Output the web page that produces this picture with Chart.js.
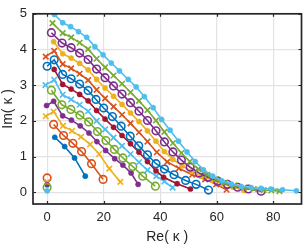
<!DOCTYPE html>
<html>
<head>
<meta charset="utf-8">
<script src="https://cdn.jsdelivr.net/npm/chart.js@4/dist/chart.umd.min.js"></script>
<style>
html,body{margin:0;padding:0;background:#fff;}
#wrap{width:307px;height:249px;}
</style>
</head>
<body>
<div id="wrap"><canvas id="c" width="307" height="249"></canvas></div>
<script>
// ---- data (Re(kappa), Im(kappa)) ----
const xTicks = [0, 20, 40, 60, 80];
const yTicks = [0, 1, 2, 3, 4, 5];
const xLabel = 'Re( κ )';
const yLabel = 'Im( κ )';

const s01 = [[2.7,1.54],[6.2,1.28],[9.7,0.96],[13.5,0.45]];
const s02 = [[2.3,1.90],[5.8,1.59],[9.1,1.37],[12.2,1.14],[15.7,0.80],[19.8,0.36]];
const s03 = [[-0.5,2.13],[2.3,2.26],[5.6,1.86],[8.8,1.72],[12.0,1.55],[15.2,1.34],[18.4,1.07],[22.0,0.66],[25.9,0.29]];
const s04 = [[-0.2,2.43],[2.3,2.55],[5.5,2.14],[8.6,2.02],[11.7,1.86],[14.8,1.66],[17.6,1.42],[20.7,1.17],[23.9,0.94],[26.8,0.76],[29.7,0.54],[32.2,0.22]];
const s05 = [[1.5,2.86],[5.2,2.45],[8.4,2.32],[11.6,2.16],[14.7,1.97],[17.8,1.70],[20.8,1.45],[23.8,1.20],[26.8,0.96],[30.3,0.72],[33.8,0.45],[38.3,0.17]];
const s06 = [[-0.6,3.00],[2.5,3.15],[5.5,2.73],[8.5,2.60],[11.5,2.45],[14.5,2.27],[17.5,2.00],[20.5,1.76],[23.5,1.53],[26.5,1.30],[29.5,1.07],[32.5,0.84],[35.5,0.62],[38.6,0.45],[41.5,0.30],[44.4,0.13]];
const s07 = [[2.5,3.44],[5.5,3.02],[8.5,2.89],[11.5,2.74],[14.5,2.56],[17.5,2.29],[20.5,2.05],[23.5,1.82],[26.5,1.59],[29.5,1.36],[32.5,1.12],[35.5,0.86],[38.5,0.60],[41.2,0.42],[46.0,0.24],[50.7,0.09]];
const s08 = [[0.0,3.53],[2.5,3.71],[5.5,3.30],[8.5,3.18],[11.5,3.03],[14.5,2.85],[17.3,2.60],[20.0,2.36],[23.1,2.12],[26.2,1.85],[29.4,1.57],[32.4,1.30],[35.5,1.05],[38.5,0.80],[41.5,0.65],[44.9,0.49],[49.0,0.33],[52.7,0.22],[57.1,0.06]];
const s09 = [[-0.5,3.80],[2.5,3.96],[5.5,3.59],[8.5,3.47],[11.5,3.32],[14.5,3.14],[17.5,2.87],[20.5,2.63],[23.5,2.40],[26.5,2.17],[29.5,1.93],[32.5,1.68],[35.5,1.42],[38.8,1.12],[42.5,0.85],[46.6,0.67],[51.3,0.49],[55.9,0.36],[59.8,0.22],[63.5,0.07]];
const s10 = [[2.3,4.22],[5.5,3.88],[8.5,3.76],[11.5,3.61],[14.5,3.43],[17.5,3.16],[20.5,2.92],[23.5,2.69],[26.5,2.46],[29.5,2.22],[32.5,1.98],[35.5,1.72],[38.5,1.43],[41.5,1.14],[44.5,0.92],[47.8,0.74],[51.2,0.58],[54.8,0.45],[58.4,0.34],[62.0,0.24],[65.8,0.14],[69.7,0.05]];
const s11 = [[1.5,4.47],[5.3,4.18],[8.5,4.05],[11.5,3.90],[14.5,3.72],[17.5,3.45],[20.5,3.21],[23.5,2.98],[26.5,2.75],[29.5,2.51],[32.5,2.27],[35.5,2.01],[38.5,1.72],[41.5,1.41],[44.5,1.13],[47.5,0.90],[50.6,0.70],[53.8,0.54],[57.0,0.42],[60.4,0.31],[63.8,0.22],[67.4,0.14],[71.2,0.09],[75.7,0.03]];
const s12 = [[1.9,4.74],[5.5,4.46],[8.5,4.34],[11.5,4.19],[14.5,4.01],[17.5,3.74],[20.5,3.50],[23.5,3.27],[26.5,3.04],[29.5,2.80],[32.5,2.56],[35.5,2.30],[38.5,2.01],[41.5,1.69],[44.5,1.38],[47.5,1.10],[50.5,0.86],[53.5,0.65],[56.6,0.49],[59.7,0.37],[62.9,0.27],[66.2,0.19],[69.6,0.13],[73.1,0.09],[76.6,0.06],[79.3,0.05],[82.2,0.03]];
const s13 = [[2.6,4.98],[5.5,4.75],[8.3,4.64],[11.1,4.50],[14.0,4.34],[16.9,4.08],[19.8,3.85],[22.7,3.62],[25.6,3.40],[28.7,3.16],[31.5,2.95],[34.4,2.68],[37.5,2.37],[40.5,2.04],[43.5,1.74],[46.5,1.43],[49.5,1.13],[52.4,0.86],[55.3,0.63],[58.6,0.45],[61.8,0.32],[65.2,0.23],[68.7,0.16],[72.2,0.13],[75.7,0.11],[79.2,0.09],[83.3,0.07],[88.2,0.04]];

// isolated points on the imaginary axis
const z02 = [[0,0.40]];
const z03 = [[0,0.29]];
const z04 = [[0,0.21]];
const z05 = [[0,0.13]];
const z13 = [[0,0.04]];

const seriesList = [s01,s02,s03,s04,s05,s06,s07,s08,s09,s10,s11,s12,s13];
const zeroList = [[z02,1],[z03,2],[z04,3],[z05,4],[z13,12]];

// ---- styling ----
const colors = ['#0072BD','#D95319','#EDB120','#7E2F8E','#77AC30','#4DBEEE','#A2142F'];
const markers = ['dot','circle','cross'];

function styleFor(i){
  const col = colors[i % 7];
  const m = markers[i % 3];
  const st = {borderColor: col, pointBorderColor: col};
  if (m === 'dot'){
    st.pointStyle = 'circle'; st.pointRadius = 2.6; st.pointBackgroundColor = col; st.pointBorderWidth = 0.5;
  } else if (m === 'circle'){
    st.pointStyle = 'circle'; st.pointRadius = 3.8; st.pointBackgroundColor = 'rgba(0,0,0,0)'; st.pointBorderWidth = 1.6;
  } else {
    st.pointStyle = 'crossRot'; st.pointRadius = 3.9; st.pointBackgroundColor = col; st.pointBorderWidth = 1.6;
  }
  return st;
}

const datasets = [];
seriesList.forEach((s, i) => {
  datasets.push(Object.assign({
    data: s.map(p => ({x:p[0], y:p[1]})),
    showLine: true, borderWidth: 1.6, order: 100 - i, pointHoverRadius: 0
  }, styleFor(i)));
});
zeroList.forEach(([z, i], j) => {
  datasets.push(Object.assign({
    data: z.map(p => ({x:p[0], y:p[1]})),
    showLine: false, order: 200 - j, pointHoverRadius: 0
  }, styleFor(i)));
});

const axisColor = '#262626';
const boxPlugin = {
  id: 'box',
  afterDatasetsDraw(chart){
    const {ctx, chartArea: a, scales} = chart;
    ctx.save();
    ctx.strokeStyle = axisColor;
    ctx.lineWidth = 1.2;
    const tl = 3;
    ctx.beginPath();
    xTicks.forEach(v => {
      const px = Math.round(scales.x.getPixelForValue(v)) + 0.5;
      ctx.moveTo(px, a.bottom); ctx.lineTo(px, a.bottom - tl);
      ctx.moveTo(px, a.top); ctx.lineTo(px, a.top + tl);
    });
    yTicks.forEach(v => {
      const py = Math.round(scales.y.getPixelForValue(v)) + 0.5;
      ctx.moveTo(a.left, py); ctx.lineTo(a.left + tl, py);
      ctx.moveTo(a.right, py); ctx.lineTo(a.right - tl, py);
    });
    ctx.stroke();
    ctx.lineWidth = 1.7;
    ctx.strokeRect(a.left, a.top, a.right - a.left, a.bottom - a.top);
    ctx.restore();
  }
};

const fontFam = '"Liberation Sans", Arial, Helvetica, sans-serif';

new Chart(document.getElementById('c'), {
  type: 'scatter',
  data: {datasets},
  plugins: [boxPlugin],
  options: {
    responsive: false,
    animation: false,
    events: [],
    layout: {padding: {top: 5, right: 4, left: 0, bottom: 0}},
    plugins: {legend: {display: false}, tooltip: {enabled: false}},
    scales: {
      x: {
        type: 'linear', min: -5, max: 90,
        afterBuildTicks: s => { s.ticks = xTicks.map(v => ({value: v})); },
        afterFit: s => { s.height = 45; },
        grid: {color: '#e3e3e3', lineWidth: 1.2, drawTicks: false},
        border: {display: false},
        ticks: {color: axisColor, padding: 6, font: {family: fontFam, size: 13}, maxRotation: 0},
        title: {display: true, text: xLabel, color: axisColor, font: {family: fontFam, size: 14}, padding: {top: 0, bottom: 3}}
      },
      y: {
        type: 'linear', min: -0.33, max: 5,
        afterBuildTicks: s => { s.ticks = yTicks.map(v => ({value: v})); },
        afterFit: s => { s.width = 33; },
        grid: {color: '#e3e3e3', lineWidth: 1.2, drawTicks: false},
        border: {display: false},
        ticks: {color: axisColor, padding: 6, font: {family: fontFam, size: 13}},
        title: {display: true, text: yLabel, color: axisColor, font: {family: fontFam, size: 14}, padding: {top: 0, bottom: 0}}
      }
    }
  }
});
</script>
</body>
</html>
